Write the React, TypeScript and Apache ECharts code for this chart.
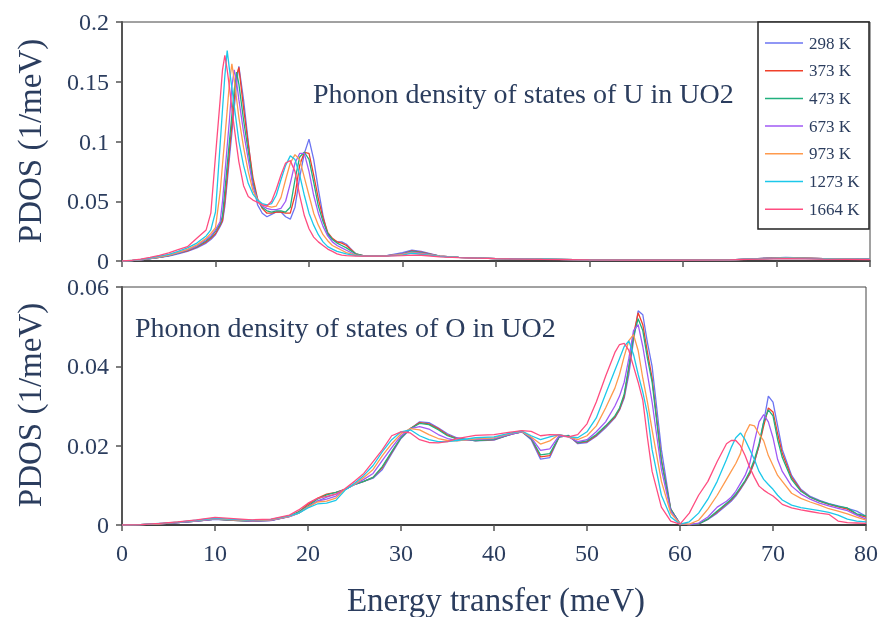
import React, { useEffect, useRef } from "react";
import * as echarts from "echarts";

const TEMPS = ["298 K", "373 K", "473 K", "673 K", "973 K", "1273 K", "1664 K"];
const COLORS = ["#6b74f2", "#f0402a", "#21b07e", "#a05af5", "#ff9a4d", "#1cc8ea", "#ff4d80"];

// Energy grid for the U panel (meV)
const XU = [0,1,2,3,4,5,6,7,8,9,9.5,10,10.5,10.75,11,11.25,11.5,11.75,12,12.25,12.5,13,13.5,14,14.5,15,15.5,16,16.5,17,17.5,18,18.5,19,19.5,20,20.5,21,21.5,22,22.5,23,23.5,24,25,26,28,30,31,32,34,36,40,45,50,55,60,65,68,71,75,80];

const U298 = [0,0.0003,0.001,0.002,0.003,0.004,0.006,0.008,0.011,0.015,0.018,0.022,0.029,0.033,0.046,0.066,0.087,0.107,0.128,0.148,0.163,0.135,0.1,0.065,0.047,0.04,0.037,0.039,0.041,0.041,0.037,0.035,0.045,0.07,0.09,0.102,0.085,0.06,0.038,0.022,0.018,0.016,0.016,0.014,0.006,0.004,0.004,0.007,0.009,0.008,0.004,0.003,0.002,0.0015,0.001,0.0008,0.0008,0.001,0.002,0.003,0.002,0.0015];
const U373 = [0,0.0003,0.001,0.002,0.003,0.0045,0.0065,0.0085,0.0115,0.016,0.019,0.023,0.03,0.034,0.05,0.071,0.093,0.114,0.135,0.155,0.162,0.128,0.098,0.07,0.052,0.044,0.04,0.04,0.041,0.041,0.04,0.04,0.055,0.08,0.091,0.09,0.072,0.052,0.036,0.024,0.019,0.016,0.015,0.013,0.006,0.004,0.004,0.006,0.0085,0.0075,0.004,0.003,0.002,0.0015,0.001,0.0008,0.0008,0.001,0.002,0.0028,0.002,0.0015];
const U473 = [0,0.0003,0.001,0.002,0.003,0.0045,0.0065,0.009,0.012,0.017,0.02,0.025,0.031,0.038,0.059,0.08,0.101,0.122,0.143,0.158,0.148,0.118,0.092,0.066,0.051,0.045,0.042,0.041,0.042,0.042,0.041,0.045,0.068,0.087,0.091,0.085,0.066,0.046,0.033,0.023,0.018,0.015,0.013,0.011,0.006,0.004,0.004,0.006,0.008,0.007,0.004,0.003,0.002,0.0015,0.001,0.0008,0.0008,0.001,0.002,0.0027,0.002,0.0015];
const U673 = [0,0.0003,0.001,0.002,0.0032,0.0047,0.0068,0.0093,0.0125,0.018,0.021,0.026,0.033,0.05,0.073,0.096,0.119,0.146,0.16,0.15,0.135,0.108,0.085,0.063,0.051,0.046,0.044,0.043,0.043,0.044,0.05,0.065,0.082,0.09,0.09,0.075,0.055,0.04,0.029,0.021,0.016,0.013,0.011,0.009,0.005,0.004,0.004,0.006,0.0075,0.0065,0.004,0.003,0.002,0.0015,0.001,0.0008,0.0008,0.001,0.002,0.0026,0.002,0.0015];
const U973 = [0,0.0004,0.0012,0.0022,0.0035,0.005,0.0072,0.0098,0.0135,0.019,0.023,0.028,0.058,0.081,0.103,0.126,0.15,0.165,0.152,0.136,0.12,0.095,0.075,0.059,0.051,0.047,0.046,0.045,0.046,0.053,0.068,0.082,0.089,0.085,0.07,0.055,0.04,0.03,0.022,0.017,0.013,0.011,0.009,0.007,0.005,0.004,0.004,0.0055,0.007,0.006,0.004,0.003,0.002,0.0015,0.001,0.0008,0.0008,0.001,0.0018,0.0025,0.002,0.0014];
const U1273 = [0,0.0004,0.0013,0.0025,0.004,0.0056,0.008,0.011,0.015,0.021,0.026,0.041,0.098,0.127,0.155,0.176,0.16,0.145,0.13,0.115,0.1,0.08,0.065,0.056,0.051,0.048,0.047,0.048,0.055,0.068,0.08,0.088,0.085,0.072,0.055,0.04,0.03,0.022,0.016,0.012,0.01,0.008,0.007,0.006,0.0045,0.004,0.004,0.005,0.0065,0.0055,0.0038,0.003,0.002,0.0015,0.001,0.0008,0.0008,0.001,0.0017,0.0023,0.0018,0.0013];
const U1664 = [0,0.0005,0.0015,0.003,0.0048,0.0068,0.0095,0.012,0.019,0.026,0.04,0.088,0.135,0.16,0.172,0.16,0.145,0.128,0.112,0.097,0.083,0.063,0.054,0.051,0.049,0.047,0.046,0.05,0.06,0.072,0.082,0.084,0.075,0.055,0.038,0.027,0.02,0.016,0.013,0.01,0.008,0.006,0.005,0.0045,0.004,0.004,0.004,0.0045,0.005,0.0048,0.0035,0.0028,0.002,0.0014,0.001,0.0008,0.0008,0.001,0.0015,0.002,0.0016,0.0012];

// Energy grid for the O panel (meV)
const XO = [0,2,4,6,8,10,12,14,16,18,19,20,21,22,23,24,25,26,27,28,29,30,31,32,33,34,35,36,38,40,42,43,44,45,46,47,48,49,50,51,52,53,53.5,54,54.5,55,55.5,56,56.5,57,58,59,60,61,62,63,64,65,65.5,66,66.5,67,67.5,68,68.5,69,69.5,70,70.5,71,72,73,74,75,76,77,78,79,80];

const O298 = [0,0.0001,0.0003,0.0006,0.001,0.0014,0.0012,0.0009,0.0011,0.0021,
  0.003,0.0046,0.006,0.007,0.0078,0.009,0.0102,0.011,0.0118,0.014,0.018,0.0218,0.0242,0.026,0.0258,0.0245,0.023,0.022,
  0.0212,0.0214,0.023,
  0.0235,0.0215,0.0166,0.017,0.0222,0.0226,0.0205,0.0208,0.0224,0.0245,0.027,
  0.029,0.032,0.038,0.0465,0.054,0.053,0.046,0.04,
  0.019,0.004,0.0003,0.0001,0.0003,0.0014,0.003,0.005,
  0.006,0.0073,0.009,0.0108,0.0128,0.0158,0.02,0.026,0.0325,0.031,0.025,0.019,
  0.0125,0.009,0.0072,0.0062,0.0054,0.0048,0.0042,0.0035,0.0022];
const O373 = [0,0.0001,0.0003,0.0006,0.001,0.0015,0.0012,0.001,0.0012,0.0022,
  0.0033,0.0052,0.0067,0.0078,0.0082,0.009,0.0103,0.011,0.012,0.0145,0.0183,0.022,0.0243,0.0258,0.0255,0.0243,0.0227,0.0218,
  0.0213,0.0215,0.023,
  0.0235,0.0218,0.0172,0.0175,0.0222,0.0225,0.0207,0.021,0.0226,0.0248,0.0272,
  0.0292,0.0325,0.0395,0.048,0.0535,0.0505,0.0435,0.037,
  0.0165,0.004,0.0003,0.0001,0.0003,0.0015,0.0033,0.0053,
  0.0063,0.0076,0.0092,0.011,0.013,0.016,0.02,0.025,0.0295,0.0285,0.023,0.018,
  0.012,0.0087,0.007,0.006,0.0052,0.0046,0.004,0.0027,0.002];
const O473 = [0,0.0001,0.0003,0.0006,0.001,0.0015,0.0012,0.001,0.0012,0.0022,
  0.0033,0.0048,0.0065,0.0076,0.0082,0.009,0.0102,0.011,0.012,0.0148,0.0185,0.022,0.0243,0.0256,0.0253,0.024,0.0225,0.0217,
  0.0213,0.0216,0.023,
  0.0235,0.0218,0.0177,0.018,0.0222,0.0225,0.0208,0.0212,0.0228,0.025,0.0275,
  0.0295,0.033,0.04,0.0475,0.052,0.049,0.042,0.036,
  0.016,0.004,0.0003,0.0001,0.0003,0.0015,0.0035,0.0055,
  0.0065,0.0078,0.0095,0.0112,0.0135,0.0165,0.0205,0.026,0.029,0.0275,0.0215,0.017,
  0.0115,0.0085,0.007,0.006,0.0053,0.0047,0.0043,0.0028,0.0023];
const O673 = [0,0.0001,0.0003,0.0006,0.001,0.0015,0.0013,0.001,0.0012,0.0021,
  0.003,0.0046,0.006,0.0065,0.0073,0.009,0.0102,0.0115,0.013,0.0163,0.0195,0.0225,0.0243,0.0248,0.0242,0.0228,0.0218,0.0213,
  0.0215,0.0218,0.023,
  0.0235,0.022,0.0188,0.0192,0.0225,0.0222,0.021,0.0215,0.0235,0.026,0.03,
  0.0325,0.036,0.042,0.049,0.0505,0.045,0.038,0.031,
  0.014,0.0035,0.0003,0.0001,0.0005,0.002,0.0045,0.006,
  0.007,0.0085,0.0105,0.0125,0.0155,0.021,0.026,0.0278,0.026,0.022,0.0165,0.0135,
  0.0098,0.0078,0.0065,0.0055,0.0048,0.0042,0.0036,0.0025,0.0015];
const O973 = [0,0.0001,0.0003,0.0007,0.0011,0.0016,0.0013,0.0011,0.0013,0.0022,
  0.003,0.0045,0.0058,0.006,0.0068,0.009,0.0103,0.012,0.014,0.0175,0.0205,0.023,0.0243,0.024,0.0228,0.0218,0.0213,0.0212,
  0.0217,0.022,0.0232,
  0.0236,0.0222,0.0204,0.0212,0.0228,0.0222,0.0215,0.0225,0.025,0.0295,0.0345,
  0.038,0.0425,0.0465,0.048,0.044,0.037,0.031,0.024,
  0.011,0.003,0.0003,0.0002,0.0012,0.004,0.0075,0.0115,
  0.0135,0.0155,0.018,0.023,0.0253,0.025,0.023,0.0212,0.0175,0.015,0.0125,0.011,
  0.008,0.0067,0.0058,0.005,0.0041,0.0035,0.0028,0.002,0.0012];
const O1273 = [0,0.0001,0.0004,0.0007,0.0012,0.0017,0.0014,0.0012,0.0014,0.0023,
  0.003,0.0043,0.0053,0.0055,0.0062,0.0088,0.0105,0.0125,0.015,0.0185,0.0215,0.0235,0.024,0.0225,0.0215,0.021,0.021,0.0213,
  0.022,0.0222,0.0233,
  0.0237,0.0225,0.0215,0.0222,0.0228,0.0223,0.022,0.0235,0.027,0.033,0.039,
  0.042,0.045,0.0464,0.043,0.038,0.0335,0.028,0.019,
  0.0075,0.002,0.0002,0.0008,0.003,0.0065,0.011,0.0165,
  0.0195,0.022,0.0232,0.0215,0.019,0.0165,0.0135,0.0115,0.0102,0.009,0.0075,0.0063,
  0.005,0.0044,0.004,0.0036,0.0032,0.0025,0.0015,0.001,0.0008];
const O1664 = [0,0.0001,0.0004,0.0008,0.0013,0.0019,0.0016,0.0013,0.0015,0.0025,
  0.0038,0.0055,0.0067,0.0072,0.0078,0.0092,0.011,0.013,0.016,0.019,0.0225,0.0235,0.0232,0.0215,0.0208,0.0207,0.021,0.0218,
  0.0226,0.0228,0.0235,
  0.0238,0.0236,0.0225,0.0228,0.0227,0.0222,0.0228,0.0255,0.031,0.0375,0.0435,
  0.0455,0.0458,0.044,0.04,0.036,0.0315,0.022,0.0135,
  0.0045,0.001,0.0002,0.003,0.0075,0.011,0.016,0.0205,
  0.0213,0.0213,0.02,0.0175,0.0145,0.012,0.0098,0.0088,0.008,0.0073,0.0063,0.0052,
  0.0043,0.0038,0.0034,0.003,0.0027,0.001,0.0006,0.0005,0.0004];

const U_SERIES = [U298, U373, U473, U673, U973, U1273, U1664];
const O_SERIES = [O298, O373, O473, O673, O973, O1273, O1664];

const FONT = '"Liberation Serif", "Times New Roman", serif';
const TEXT = "#2b3d5e";

export default function App() {
  const ref = useRef<HTMLDivElement>(null);
  useEffect(() => {
    if (!ref.current) return;
    const chart = echarts.init(ref.current, null, { renderer: "svg" });
    const series: any[] = [];
    U_SERIES.forEach((arr, i) => {
      series.push({
        type: "line", name: TEMPS[i], xAxisIndex: 0, yAxisIndex: 0,
        data: XU.map((x, k) => [x, arr[k]]), symbol: "none",
        lineStyle: { width: 1.3, color: COLORS[i] }, itemStyle: { color: COLORS[i] },
      });
    });
    O_SERIES.forEach((arr, i) => {
      series.push({
        type: "line", name: TEMPS[i], xAxisIndex: 1, yAxisIndex: 1,
        data: XO.map((x, k) => [x, arr[k]]), symbol: "none",
        lineStyle: { width: 1.3, color: COLORS[i] }, itemStyle: { color: COLORS[i] },
      });
    });
    const xCommon = {
      type: "value", min: 0, max: 80, interval: 10,
      axisLine: { lineStyle: { color: "#222", width: 1.5 } },
      axisTick: { show: true, length: 6, lineStyle: { color: "#555", width: 1.5 } },
      splitLine: { show: false },
    };
    const yCommon = {
      type: "value", min: 0,
      axisLine: { show: true, lineStyle: { color: "#555", width: 2 } },
      axisTick: { show: true, length: 6, lineStyle: { color: "#555", width: 1.5 } },
      axisLabel: { fontSize: 24, color: TEXT, fontFamily: FONT, margin: 13 },
      splitLine: { show: false },
    };
    chart.setOption({
      animation: false,
      grid: [
        { left: 122, top: 22, width: 748, height: 239, show: true, borderColor: "#444", borderWidth: 1, backgroundColor: "transparent" },
        { left: 122, top: 287, width: 748, height: 238, show: true, borderColor: "#444", borderWidth: 1, backgroundColor: "transparent" },
      ],
      xAxis: [
        { ...xCommon, gridIndex: 0, axisLabel: { show: false } },
        { ...xCommon, gridIndex: 1, axisLabel: { show: true, fontSize: 24, color: TEXT, fontFamily: FONT, margin: 16 } },
      ],
      yAxis: [
        { ...yCommon, gridIndex: 0, max: 0.2, interval: 0.05 },
        { ...yCommon, gridIndex: 1, max: 0.06, interval: 0.02 },
      ],
      legend: {
        orient: "vertical", left: 765, top: 34, icon: "rect", itemWidth: 38, itemHeight: 1.5, itemGap: 9.7,
        padding: 0, data: TEMPS, selectedMode: false,
        textStyle: { fontSize: 17, fontFamily: FONT, color: TEXT, lineHeight: 18, padding: [0, 0, 0, 1] },
      },
      graphic: [
        { type: "rect", z: 3, shape: { x: 758, y: 22, width: 111, height: 207 }, style: { fill: "#fff", stroke: "#222", lineWidth: 1.5 } },
        { type: "text", x: 30, y: 141, rotation: Math.PI / 2, style: { text: "PDOS (1/meV)", font: `33px ${FONT}`, fill: TEXT, align: "center", verticalAlign: "middle" } },
        { type: "text", x: 30, y: 405, rotation: Math.PI / 2, style: { text: "PDOS (1/meV)", font: `33px ${FONT}`, fill: TEXT, align: "center", verticalAlign: "middle" } },
        { type: "text", x: 496, y: 600, style: { text: "Energy transfer (meV)", font: `33px ${FONT}`, fill: TEXT, align: "center", verticalAlign: "middle" } },
        { type: "text", x: 313, y: 93, style: { text: "Phonon density of states of U in UO2", font: `28px ${FONT}`, fill: TEXT, align: "left", verticalAlign: "middle" } },
        { type: "text", x: 135, y: 327, style: { text: "Phonon density of states of O in UO2", font: `28px ${FONT}`, fill: TEXT, align: "left", verticalAlign: "middle" } },
      ],
      series,
    });
    return () => chart.dispose();
  }, []);
  return <div ref={ref} style={{ position: "fixed", left: 0, top: 0, width: 881, height: 617 }} />;
}
